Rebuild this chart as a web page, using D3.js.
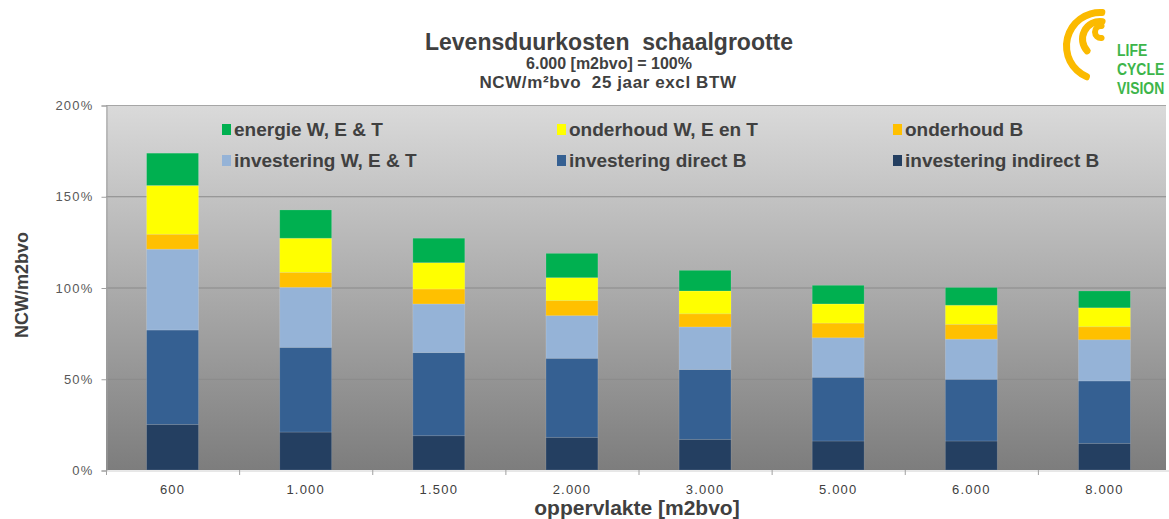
<!DOCTYPE html>
<html>
<head>
<meta charset="utf-8">
<script src="https://cdn.jsdelivr.net/npm/d3@7"></script>
<style>
  body { margin: 0; background: #fff; }
  text { font-family: "Liberation Sans", Arial, sans-serif; }
</style>
</head>
<body>
<div class="chart"></div>
<script>
// Chart data (percent of the 6.000 m2bvo reference)
var categories = ["600", "1.000", "1.500", "2.000", "3.000", "5.000", "6.000", "8.000"];

var seriesNames = [
  "investering indirect B",
  "investering direct B",
  "investering W, E & T",
  "onderhoud B",
  "onderhoud W, E en T",
  "energie W, E & T"
];
var seriesColors = ["#243f61", "#356092", "#95b3d7", "#ffc000", "#ffff00", "#00b050"];

var investeringIndirectB = [25.0, 20.8, 18.8, 17.9, 16.8, 15.9, 15.9, 14.6];
var investeringDirectB   = [51.7, 46.4, 45.5, 43.3, 38.2, 34.9, 33.8, 34.2];
var investeringWET       = [44.3, 32.9, 26.7, 23.4, 23.4, 21.7, 22.0, 22.6];
var onderhoudB           = [8.2, 8.2, 8.2, 8.2, 7.2, 8.0, 8.1, 7.1];
var onderhoudWET         = [26.7, 18.7, 14.4, 12.6, 12.5, 10.5, 10.5, 10.4];
var energieWET           = [17.7, 15.5, 13.4, 13.3, 11.3, 10.2, 9.7, 9.2];

var yTicks = [0, 50, 100, 150, 200];

// legend layout: two rows of three
var legendOrder = [5, 4, 3, 2, 1, 0];

var svgWidth = 1169;
var svgHeight = 519;

var plot = { left: 106, right: 1171, top: 105, bottom: 470 };

var svg = d3.select(".chart")
  .append("svg")
  .attr("width", svgWidth)
  .attr("height", svgHeight);

// background gradient of the plot area
var defs = svg.append("defs");
var grad = defs.append("linearGradient")
  .attr("id", "bg")
  .attr("x1", 0).attr("y1", 0).attr("x2", 0).attr("y2", 1);
grad.append("stop").attr("offset", "0%").attr("stop-color", "#dadada");
grad.append("stop").attr("offset", "100%").attr("stop-color", "#7d7d7d");

svg.append("rect")
  .attr("x", plot.left)
  .attr("y", plot.top)
  .attr("width", 1166 - plot.left)
  .attr("height", plot.bottom - plot.top)
  .attr("fill", "url(#bg)");

var table = categories.map(function (c, i) {
  return {
    cat: c,
    s0: investeringIndirectB[i],
    s1: investeringDirectB[i],
    s2: investeringWET[i],
    s3: onderhoudB[i],
    s4: onderhoudWET[i],
    s5: energieWET[i]
  };
});

var keys = ["s0", "s1", "s2", "s3", "s4", "s5"];
var stacked = d3.stack().keys(keys)(table);

var xScale = d3.scaleBand()
  .domain(categories)
  .range([plot.left, plot.right])
  .paddingInner(0.61)
  .paddingOuter(0.305);

var xBand = d3.scaleBand()
  .domain(categories)
  .range([plot.left, plot.right]);

var yScale = d3.scaleLinear()
  .domain([0, 200])
  .range([plot.bottom, plot.top]);

// gridlines
svg.append("g")
  .selectAll("line")
  .data(yTicks.filter(function (d) { return d > 0 && d < 200; }))
  .enter()
  .append("line")
  .attr("x1", plot.left)
  .attr("x2", 1166)
  .attr("y1", d => yScale(d) + 0.5)
  .attr("y2", d => yScale(d) + 0.5)
  .attr("stroke", "#8a8a8a")
  .attr("stroke-width", 1.2);

// top border
svg.append("line")
  .attr("x1", plot.left).attr("x2", 1166)
  .attr("y1", plot.top + 0.5).attr("y2", plot.top + 0.5)
  .attr("stroke", "#a6a6a6");

// y axis
var leftAxis = d3.axisLeft(yScale)
  .tickValues(yTicks)
  .tickSize(5)
  .tickFormat(d => d + "%");

var yAxis = svg.append("g")
  .attr("transform", `translate(${plot.left + 0.5}, 0.5)`)
  .call(leftAxis);
yAxis.select(".domain").attr("stroke", "#a0a0a0");
yAxis.selectAll(".tick line").attr("stroke", "#a0a0a0");
yAxis.selectAll("text")
  .attr("x", -13)
  .style("font-family", "'Liberation Sans', Arial, sans-serif")
  .style("font-size", "13px")
  .style("letter-spacing", "1.2px")
  .style("fill", "#595959");

// bars
var layers = svg.append("g")
  .selectAll("g")
  .data(stacked)
  .enter()
  .append("g")
  .attr("fill", (d, i) => seriesColors[i]);

layers.selectAll("rect")
  .data(d => d)
  .enter()
  .append("rect")
  .attr("x", d => xScale(d.data.cat))
  .attr("width", xScale.bandwidth())
  .attr("y", d => yScale(d[1]))
  .attr("height", d => yScale(d[0]) - yScale(d[1]))
  .attr("stroke", "rgba(255,255,255,0.18)")
  .attr("stroke-width", 0.8);

// x axis
var bottomAxis = d3.axisBottom(xBand).tickSize(0);
var xAxis = svg.append("g")
  .attr("transform", `translate(0, ${plot.bottom + 0.5})`)
  .call(bottomAxis);
xAxis.select(".domain").attr("stroke", "#d0d0d0");
xAxis.selectAll("text")
  .attr("y", 14)
  .style("font-family", "'Liberation Sans', Arial, sans-serif")
  .style("font-size", "13px")
  .style("letter-spacing", "1.2px")
  .style("fill", "#404040");

// tick marks between categories
svg.append("g")
  .selectAll("line")
  .data(categories)
  .enter()
  .append("line")
  .attr("x1", d => xBand(d) + 0.5)
  .attr("x2", d => xBand(d) + 0.5)
  .attr("y1", plot.bottom)
  .attr("y2", plot.bottom + 5)
  .attr("stroke", "#a0a0a0");

// legend
var legend = svg.append("g");
var legendX = [222, 557, 893];
var legendY = [129, 160];
legendOrder.forEach(function (si, k) {
  var lx = legendX[k % 3];
  var ly = legendY[Math.floor(k / 3)];
  legend.append("rect")
    .attr("x", lx)
    .attr("y", ly - 5)
    .attr("width", 9)
    .attr("height", 11)
    .attr("fill", seriesColors[si]);
  legend.append("text")
    .attr("x", lx + 12)
    .attr("y", ly + 7)
    .style("font-size", "19px")
    .style("font-weight", "bold")
    .style("fill", "#404040")
    .text(seriesNames[si]);
});

// titles
var titleGroup = svg.append("g")
  .attr("text-anchor", "middle")
  .style("fill", "#404040")
  .style("font-weight", "bold");

titleGroup.append("text")
  .attr("x", 609)
  .attr("y", 50)
  .attr("xml:space", "preserve")
  .style("font-size", "23px")
  .text("Levensduurkosten  schaalgrootte");

titleGroup.append("text")
  .attr("x", 609)
  .attr("y", 69)
  .style("font-size", "16px")
  .text("6.000 [m2bvo] = 100%");

titleGroup.append("text")
  .attr("x", 608)
  .attr("y", 88)
  .attr("xml:space", "preserve")
  .style("font-size", "17px")
  .style("letter-spacing", "0.6px")
  .text("NCW/m\u00b2bvo  25 jaar excl BTW");

// axis titles
svg.append("text")
  .attr("transform", "translate(28, 285) rotate(-90)")
  .attr("text-anchor", "middle")
  .style("font-size", "18px")
  .style("font-weight", "bold")
  .style("fill", "#404040")
  .text("NCW/m2bvo");

svg.append("text")
  .attr("x", 637)
  .attr("y", 515)
  .attr("text-anchor", "middle")
  .style("font-size", "21px")
  .style("font-weight", "bold")
  .style("fill", "#404040")
  .text("oppervlakte [m2bvo]");

// logo
var logo = svg.append("g");
var arc = d3.arc().cornerRadius(3);
logo.append("path")
  .attr("transform", "translate(1100, 46)")
  .attr("d", arc({ innerRadius: 30, outerRadius: 37, startAngle: Math.PI * 1.1, endAngle: Math.PI * 2.05 }))
  .attr("fill", "#fbba00");
logo.append("path")
  .attr("transform", "translate(1100, 39)")
  .attr("d", arc({ innerRadius: 14, outerRadius: 21, startAngle: Math.PI * 1.2, endAngle: Math.PI * 2.1 }))
  .attr("fill", "#fbba00");
logo.append("path")
  .attr("transform", "translate(1101, 32)")
  .attr("d", arc({ innerRadius: 3, outerRadius: 9, startAngle: Math.PI * 0.8, endAngle: Math.PI * 2.2 }))
  .attr("fill", "#fbba00");

["LIFE", "CYCLE", "VISION"].forEach(function (t, i) {
  logo.append("text")
    .attr("transform", `translate(1117, ${56 + i * 19}) scale(0.82, 1)`)
    .style("font-size", "17px")
    .style("font-weight", "bold")
    .style("fill", "#3db54a")
    .text(t);
});
</script>
</body>
</html>
